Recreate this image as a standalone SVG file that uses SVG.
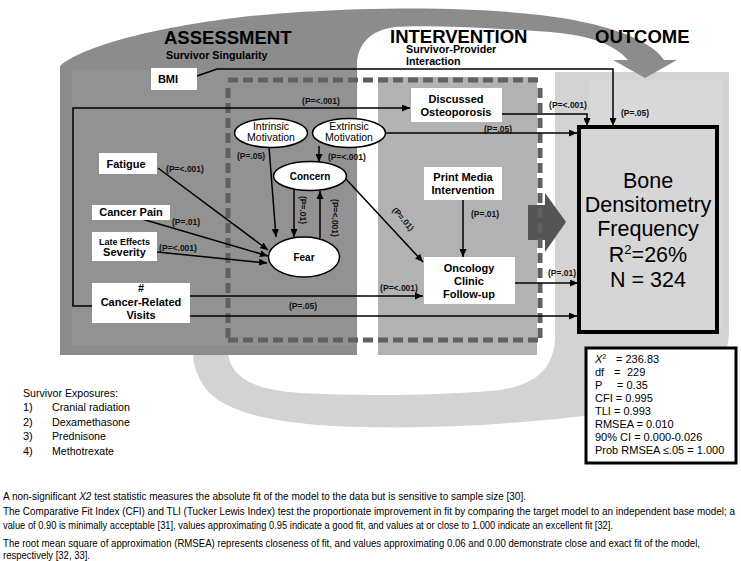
<svg xmlns="http://www.w3.org/2000/svg" width="741" height="561" viewBox="0 0 741 561">
<style>
text{font-family:"Liberation Sans",Arial,sans-serif;fill:#000}
.b{font-weight:bold}
.t{font-size:18.5px;font-weight:bold}
.st{font-size:10.7px;font-weight:bold}
.nb{font-size:11px;font-weight:bold}
.ne{font-size:10.5px}
.p{font-size:8.5px;font-weight:bold;fill:#111}
.box{fill:#fff}
.ell{fill:#fff;stroke:#000;stroke-width:1.5}
.ln{fill:none;stroke:#000;stroke-width:1.5}
.ar{marker-end:url(#ah)}
.dash{fill:none;stroke:#606060;stroke-width:5;stroke-dasharray:10 5}
.big{font-size:21.5px}
.sm{font-size:11px}
.ft{font-size:10.5px}
</style>
<defs>
<marker id="ah" markerWidth="8" markerHeight="7" refX="8" refY="3.5" orient="auto" markerUnits="userSpaceOnUse"><path d="M0,0 L8,3.5 L0,7 z" fill="#000"/></marker>
</defs>
<rect width="741" height="561" fill="#fff"/>
<g id="background">
<path d="M555,72 L729,72 L729,330 C729,378 690,402 600,414 C520,424 440,429 360,427 C280,425 225,414 205,388 C198,377 193,366 193,353 L179,353 L210,331 L240,353 L228,353 C230,375 250,390 300,393 C360,396 440,396 500,390 C540,384 555,365 555,335 Z" fill="#d3d3d3"/>
<rect x="590" y="80" width="132" height="250" fill="#d9d9d9"/>
<path d="M60,355 L60,66 C90,40 200,18 300,12 C400,6 480,8 540,15 C600,22 650,38 664,60 L677,60 L645,78 L613,60 L628,60 C615,45 590,35 550,32 C480,27 420,25 395,27 C370,30 357,45 357,65 L357,355 Z" fill="#8c8c8c"/>
<rect x="72" y="70" width="284" height="275" fill="#929292"/>
<rect x="378" y="77" width="159" height="278" fill="#b2b2b2"/>
<path d="M528,205 L545,205 L545,193 L566,222 L545,252 L545,240 L528,240 Z" fill="#555"/>
<path class="dash" d="M228,80 L542,80 M228,88 L228,340 M228,340 L542,340 M540,88 L540,340"/>
</g>
<g id="titles">
<text class="t" x="164" y="44">ASSESSMENT</text>
<text class="st" x="166" y="59">Survivor Singularity</text>
<text class="t" x="390" y="43">INTERVENTION</text>
<text class="st" x="406" y="53">Survivor-Provider</text>
<text class="st" x="406" y="65">Interaction</text>
<text class="t" x="595" y="43">OUTCOME</text>
</g>
<g id="connectors">
<path class="ln ar" d="M197,76 L217,69 L613,69 L613,126"/>
<path class="ln ar" d="M92,306 L73,306 L73,108 L410,108"/>
<path class="ln ar" d="M502,114 L587,114 L587,126"/>
<path class="ln ar" d="M385,133 L577,133"/>
<path class="ln ar" d="M319,146 L319,162"/>
<path class="ln ar" d="M269,147 L276,237"/>
<path class="ln ar" d="M294,190 L294,237"/>
<path class="ln ar" d="M320,238 L320,191"/>
<path class="ln ar" d="M345,178 L423,262"/>
<path class="ln ar" d="M158,168 L268,250"/>
<path class="ln ar" d="M142,219 L268,256"/>
<path class="ln ar" d="M157,252 L267,263"/>
<path class="ln ar" d="M190,296 L423,296"/>
<path class="ln ar" d="M190,316 L577,316"/>
<path class="ln ar" d="M463,200 L463,257"/>
<path class="ln ar" d="M515,283 L578,283"/>
<text class="p" x="321" y="104" text-anchor="middle">(P=&lt;.001)</text>
<text class="p" x="568" y="108" text-anchor="middle">(P=&lt;.001)</text>
<text class="p" x="635" y="116" text-anchor="middle">(P=.05)</text>
<text class="p" x="498" y="132" text-anchor="middle">(P=.05)</text>
<text class="p" x="328" y="160">(P=&lt;.001)</text>
<text class="p" x="251" y="159" text-anchor="middle">(P=.05)</text>
<text class="p" x="185" y="172" text-anchor="middle">(P=&lt;.001)</text>
<text class="p" x="186" y="225" text-anchor="middle">(P=.01)</text>
<text class="p" x="178" y="251" text-anchor="middle">(P=&lt;.001)</text>
<text class="p" transform="translate(300,210) rotate(90)" text-anchor="middle">(P=.01)</text>
<text class="p" transform="translate(332,218) rotate(90)" text-anchor="middle">(P=&lt;.001)</text>
<text class="p" transform="translate(401,221) rotate(49)" text-anchor="middle">(P=.01)</text>
<text class="p" x="485" y="217" text-anchor="middle">(P=.01)</text>
<text class="p" x="399" y="291" text-anchor="middle">(P=&lt;.001)</text>
<text class="p" x="562" y="276" text-anchor="middle">(P=.01)</text>
<text class="p" x="303" y="309" text-anchor="middle">(P=.05)</text>
</g>
<g id="bmi"><rect class="box" x="151" y="68" width="46" height="22"/><text class="nb" x="168" y="83" text-anchor="middle">BMI</text></g>
<g id="fatigue"><rect class="box" x="99" y="153" width="58" height="21"/><text class="nb" x="126" y="168" text-anchor="middle">Fatigue</text></g>
<g id="cancer-pain"><rect class="box" x="92" y="205" width="78" height="15"/><text class="nb" x="131" y="216" text-anchor="middle">Cancer Pain</text></g>
<g id="late-effects"><rect class="box" x="92" y="232" width="65" height="29"/><text class="b" font-size="9" x="124.5" y="244.5" text-anchor="middle">Late Effects</text><text class="nb" x="124.5" y="256" text-anchor="middle" font-size="10">Severity</text></g>
<g id="visits"><rect class="box" x="92" y="283" width="98" height="40"/><text class="nb" x="141" y="292" text-anchor="middle">#</text><text class="nb" x="141" y="306" text-anchor="middle">Cancer-Related</text><text class="nb" x="141" y="319" text-anchor="middle">Visits</text></g>
<g id="discussed"><rect class="box" x="411" y="88" width="91" height="34"/><text class="nb" x="456" y="103" text-anchor="middle">Discussed</text><text class="nb" x="456" y="116" text-anchor="middle">Osteoporosis</text></g>
<g id="print-media"><rect class="box" x="424" y="167" width="78" height="33"/><text class="nb" x="463" y="181" text-anchor="middle">Print Media</text><text class="nb" x="463" y="194" text-anchor="middle">Intervention</text></g>
<g id="oncology"><rect class="box" x="424" y="257" width="91" height="47"/><text class="nb" x="469" y="272" text-anchor="middle">Oncology</text><text class="nb" x="469" y="285" text-anchor="middle">Clinic</text><text class="nb" x="469" y="298" text-anchor="middle">Follow-up</text></g>
<g id="intrinsic"><ellipse class="ell" cx="271" cy="133" rx="36.5" ry="14.5"/><text class="ne" x="271" y="130" text-anchor="middle">Intrinsic</text><text class="ne" x="271" y="141" text-anchor="middle">Motivation</text></g>
<g id="extrinsic"><ellipse class="ell" cx="349" cy="133" rx="36.5" ry="14.5"/><text class="ne" x="349" y="130" text-anchor="middle">Extrinsic</text><text class="ne" x="349" y="141" text-anchor="middle">Motivation</text></g>
<g id="concern"><ellipse class="ell" cx="310" cy="176" rx="36.5" ry="14.5"/><text class="b" font-size="10" x="310" y="180" text-anchor="middle">Concern</text></g>
<g id="fear"><ellipse class="ell" cx="304" cy="257" rx="35.5" ry="20"/><text class="b" font-size="10" x="304" y="261" text-anchor="middle">Fear</text></g>
<g id="bone"><rect x="579" y="127" width="138" height="205" fill="#d6d6d6" stroke="#000" stroke-width="4"/>
<text class="big" x="648" y="188" text-anchor="middle">Bone</text>
<text class="big" x="648" y="212" text-anchor="middle">Densitometry</text>
<text class="big" x="648" y="236" text-anchor="middle">Frequency</text>
<text class="big" x="648" y="262" text-anchor="middle">R<tspan font-size="13" dy="-8">2</tspan><tspan dy="8">=26%</tspan></text>
<text class="big" x="648" y="287" text-anchor="middle">N = 324</text></g>
<g id="stats"><rect x="586" y="348" width="150" height="115" fill="#fff" stroke="#000" stroke-width="3"/>
<text class="sm" x="595" y="363"><tspan font-style="italic">X</tspan><tspan font-size="7" dy="-4">2</tspan><tspan x="616" dy="4">= 236.83</tspan></text>
<text class="sm" x="595" y="376">df<tspan x="614">=</tspan><tspan x="627">229</tspan></text>
<text class="sm" x="595" y="389">P<tspan x="617">= 0.35</tspan></text>
<text class="sm" x="595" y="402">CFI = 0.995</text>
<text class="sm" x="595" y="415">TLI = 0.993</text>
<text class="sm" x="595" y="428">RMSEA = 0.010</text>
<text class="sm" x="595" y="441">90% CI = 0.000-0.026</text>
<text class="sm" x="595" y="454">Prob RMSEA ≤.05 = 1.000</text></g>
<g id="exposures">
<text class="sm" x="23" y="397" textLength="95" lengthAdjust="spacingAndGlyphs">Survivor Exposures:</text>
<text class="sm" x="23" y="411">1)</text><text class="sm" x="52" y="411" textLength="78" lengthAdjust="spacingAndGlyphs">Cranial radiation</text>
<text class="sm" x="23" y="426">2)</text><text class="sm" x="52" y="426" textLength="78" lengthAdjust="spacingAndGlyphs">Dexamethasone</text>
<text class="sm" x="23" y="440">3)</text><text class="sm" x="52" y="440" textLength="54" lengthAdjust="spacingAndGlyphs">Prednisone</text>
<text class="sm" x="23" y="455">4)</text><text class="sm" x="52" y="455" textLength="62" lengthAdjust="spacingAndGlyphs">Methotrexate</text>
</g>
<g id="notes">
<text class="ft" x="3" y="499.5" textLength="523" lengthAdjust="spacingAndGlyphs">A  non-significant <tspan font-style="italic">X2</tspan> test statistic measures the absolute fit of the model to the data but is sensitive to sample size [30].</text>
<text class="ft" x="3" y="515" textLength="732" lengthAdjust="spacingAndGlyphs">The Comparative Fit Index (CFI) and TLI (Tucker Lewis Index)  test the proportionate improvement in fit by comparing  the target model to an independent base model; a</text>
<text class="ft" x="3" y="528.5" textLength="610" lengthAdjust="spacingAndGlyphs">value of 0.90 is minimally acceptable [31], values approximating 0.95 indicate a good fit, and values at or close to 1.000 indicate an excellent fit [32].</text>
<text class="ft" x="3" y="546.5" textLength="697" lengthAdjust="spacingAndGlyphs">The root mean square of approximation (RMSEA) represents closeness of fit, and values approximating 0.06 and 0.00 demonstrate close and exact fit of the model,</text>
<text class="ft" x="3" y="558.5" textLength="87" lengthAdjust="spacingAndGlyphs">respectively [32, 33].</text>
</g>
</svg>
